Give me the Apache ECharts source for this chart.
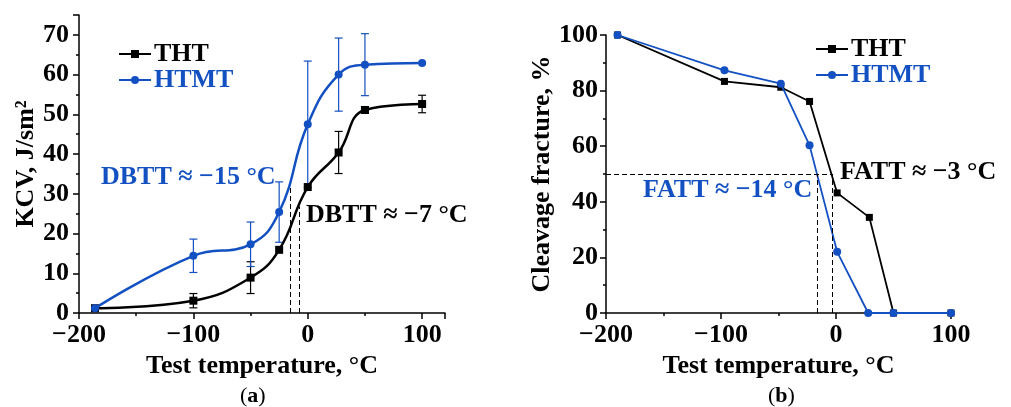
<!DOCTYPE html>
<html>
<head>
<meta charset="utf-8">
<script src="https://cdn.jsdelivr.net/npm/echarts@6/dist/echarts.min.js"></script>
<style>html,body{margin:0;padding:0;background:#fff}#c{width:1011px;height:407px}</style>
</head>
<body>
<div id="c"></div>
<script>
// ---- data (a) impact toughness ----
const kcvTemp = [-186, -100, -50, -25, 0, 27, 50, 100];
const kcvTHT = [1.2, 3.1, 8.9, 15.9, 31.7, 40.4, 51.1, 52.6];
const kcvTHTErr = [0, 1.8, 4.0, 0, 0, 5.3, 0.8, 2.2];
const kcvHTMT = [1.2, 14.4, 17.3, 25.4, 47.5, 60.0, 62.5, 62.9];
const kcvHTMTErr = [0, 4.2, 5.6, 7.6, 15.9, 9.2, 7.8, 0];
const dbttTHT = [-7, 26.8];   // [temperature, top of dashed line]
const dbttHTMT = [-15, 32.2];
// ---- data (b) cleavage fracture ----
const cfTempTHT = [-190, -97, -48, -23, 1, 29, 50, 100];
const cfTHT = [100, 83.3, 81.2, 76.1, 43.2, 34.4, 0, 0];
const cfTempHTMT = [-190, -97, -48, -23, 1, 28, 50, 100];
const cfHTMT = [100, 87.3, 82.5, 60.3, 22, 0, 0, 0];
const fattLevel = 50;
const fattTHT = -3;
const fattHTMT = -16;
const xTicksLabels = [-200, -100, 0, 100];

const BLUE = '#1350c2';
const BLACK = '#000';
const FONT = '"Liberation Serif", "Times New Roman", serif';

const pairs = (xs, ys) => xs.map((x, i) => [x, ys[i]]);
const errs = (xs, ys, es) => xs.map((x, i) => [x, ys[i] - es[i], ys[i] + es[i], es[i]]).filter(d => d[3] > 0);
const fmtNum = v => (v < 0 ? '\u2212' + Math.abs(v) : String(v));

function errSeries(data, color) {
  return {
    type: 'custom', xAxisIndex: 0, yAxisIndex: 0, data: data, z: 1, silent: true,
    renderItem: function (params, api) {
      const x = api.value(0);
      const a = api.coord([x, api.value(1)]);
      const b = api.coord([x, api.value(2)]);
      const w = 4;
      const st = { stroke: color, lineWidth: 1.2 };
      return {
        type: 'group', children: [
          { type: 'line', shape: { x1: a[0], y1: a[1], x2: b[0], y2: b[1] }, style: st },
          { type: 'line', shape: { x1: a[0] - w, y1: a[1], x2: a[0] + w, y2: a[1] }, style: st },
          { type: 'line', shape: { x1: b[0] - w, y1: b[1], x2: b[0] + w, y2: b[1] }, style: st }
        ]
      };
    }
  };
}

const axisCommon = {
  axisLine: { onZero: false, lineStyle: { color: BLACK, width: 1.5 } },
  axisTick: { length: 6, lineStyle: { color: BLACK, width: 1.5 } },
  minorTick: { show: true, splitNumber: 2, length: 3, lineStyle: { color: BLACK, width: 1.5 } },
  splitLine: { show: false },
  nameTextStyle: { fontFamily: FONT, fontWeight: 'bold', fontSize: 26, color: BLACK },
  nameLocation: 'middle'
};
const labelStyle = (margin, fmt) => ({ fontFamily: FONT, fontWeight: 'bold', fontSize: 26, color: BLACK, margin: margin, formatter: fmt });

const dashStyle = { color: BLACK, type: [5, 3], width: 1 };

const chart = echarts.init(document.getElementById('c'), null, { renderer: 'canvas' });
const option = {
  animation: false,
  backgroundColor: '#fff',
  grid: [
    { left: 79, top: 15, width: 366, height: 298 },
    { left: 606, top: 35, width: 345, height: 278 }
  ],
  xAxis: [
    Object.assign({}, axisCommon, {
      gridIndex: 0, type: 'value', min: -200, max: 120, interval: 100,
      name: 'Test temperature, \u00B0C', nameGap: 37,
      axisLabel: labelStyle(9, v => (xTicksLabels.indexOf(v) >= 0 ? fmtNum(v) : ''))
    }),
    Object.assign({}, axisCommon, {
      gridIndex: 1, type: 'value', min: -200, max: 100, interval: 100,
      name: 'Test temperature, \u00B0C', nameGap: 37,
      axisLabel: labelStyle(9, v => (xTicksLabels.indexOf(v) >= 0 ? fmtNum(v) : ''))
    })
  ],
  yAxis: [
    Object.assign({}, axisCommon, {
      gridIndex: 0, type: 'value', min: 0, max: 75, interval: 10,
      name: 'KCV, J/sm\u00B2', nameGap: 40,
      axisLabel: labelStyle(10, v => (v % 10 === 0 ? String(v) : ''))
    }),
    Object.assign({}, axisCommon, {
      gridIndex: 1, type: 'value', min: 0, max: 100, interval: 20,
      name: 'Cleavage fracture, %', nameGap: 45,
      axisLabel: labelStyle(8, v => String(v))
    })
  ],
  legend: [
    {
      orient: 'vertical', left: 113, top: 36, itemWidth: 32, itemHeight: 10, itemGap: 0,
      textStyle: { fontFamily: FONT, fontWeight: 'bold', fontSize: 26, lineHeight: 25, padding: [0, 0, 0, -2] },
      data: [{ name: 'THT', textStyle: { color: BLACK } }, { name: 'HTMT', textStyle: { color: BLUE } }]
    },
    {
      orient: 'vertical', left: 810, top: 31, itemWidth: 32, itemHeight: 10, itemGap: 0,
      textStyle: { fontFamily: FONT, fontWeight: 'bold', fontSize: 26, lineHeight: 25, padding: [0, 0, 0, -2] },
      data: [{ name: 'THT', textStyle: { color: BLACK } }, { name: 'HTMT', textStyle: { color: BLUE } }]
    }
  ],
  series: [
    errSeries(errs(kcvTemp, kcvTHT, kcvTHTErr), BLACK),
    errSeries(errs(kcvTemp, kcvHTMT, kcvHTMTErr), BLUE),
    {
      name: 'THT', type: 'line', xAxisIndex: 0, yAxisIndex: 0, data: pairs(kcvTemp, kcvTHT),
      smooth: 0.45, symbol: 'rect', symbolSize: 8, clip: false, z: 3,
      lineStyle: { color: BLACK, width: 2.5 }, itemStyle: { color: BLACK },
      markLine: {
        silent: true, symbol: 'none', label: { show: false }, lineStyle: dashStyle,
        data: [
          [{ coord: [dbttHTMT[0], 0] }, { coord: [dbttHTMT[0], dbttHTMT[1]] }],
          [{ coord: [dbttTHT[0], 0] }, { coord: [dbttTHT[0], dbttTHT[1]] }]
        ]
      }
    },
    {
      name: 'HTMT', type: 'line', xAxisIndex: 0, yAxisIndex: 0, data: pairs(kcvTemp, kcvHTMT),
      smooth: 0.45, symbol: 'circle', symbolSize: 8, clip: false, z: 4,
      lineStyle: { color: BLUE, width: 2.5 }, itemStyle: { color: BLUE }
    },
    {
      name: 'THT', type: 'line', xAxisIndex: 1, yAxisIndex: 1, data: pairs(cfTempTHT, cfTHT),
      symbol: 'rect', symbolSize: 7, clip: false, z: 3,
      lineStyle: { color: BLACK, width: 1.8 }, itemStyle: { color: BLACK },
      markLine: {
        silent: true, symbol: 'none', label: { show: false }, lineStyle: dashStyle,
        data: [
          [{ coord: [-200, fattLevel] }, { coord: [fattTHT, fattLevel] }],
          [{ coord: [fattHTMT, 0] }, { coord: [fattHTMT, fattLevel] }],
          [{ coord: [fattTHT, 0] }, { coord: [fattTHT, fattLevel] }]
        ]
      }
    },
    {
      name: 'HTMT', type: 'line', xAxisIndex: 1, yAxisIndex: 1, data: pairs(cfTempHTMT, cfHTMT),
      symbol: 'circle', symbolSize: 8, clip: false, z: 4,
      lineStyle: { color: BLUE, width: 1.8 }, itemStyle: { color: BLUE }
    }
  ],
  graphic: [
    { type: 'text', left: 101, top: 164, style: { text: 'DBTT \u2248 \u221215 \u00B0C', font: 'bold 26px ' + FONT, fill: BLUE } },
    { type: 'text', left: 306, top: 202, style: { text: 'DBTT \u2248 \u22127 \u00B0C', font: 'bold 26px ' + FONT, fill: BLACK } },
    { type: 'text', left: 643, top: 177, style: { text: 'FATT \u2248 \u221214 \u00B0C', font: 'bold 26px ' + FONT, fill: BLUE } },
    { type: 'text', left: 840, top: 159, style: { text: 'FATT \u2248 \u22123 \u00B0C', font: 'bold 26px ' + FONT, fill: BLACK } },
    { type: 'text', left: 240, top: 385, style: { text: '({b|a})', rich: { b: { font: 'bold 22px ' + FONT, fill: BLACK } }, font: '22px ' + FONT, fill: BLACK } },
    { type: 'text', left: 768, top: 385, style: { text: '({b|b})', rich: { b: { font: 'bold 22px ' + FONT, fill: BLACK } }, font: '22px ' + FONT, fill: BLACK } }
  ]
};
chart.setOption(option);
</script>
</body>
</html>
